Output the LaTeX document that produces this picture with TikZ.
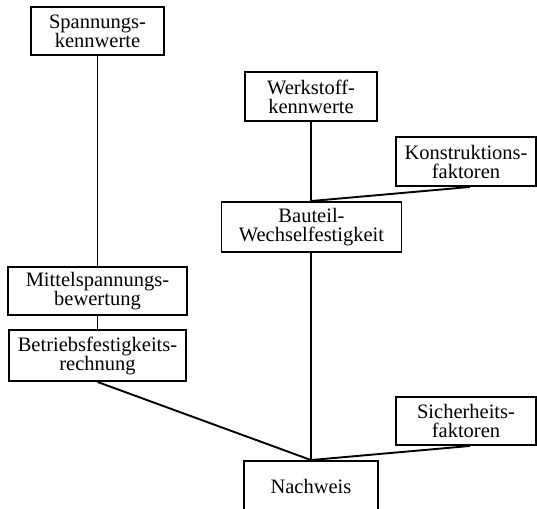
\documentclass[tikz,border=0pt]{standalone}
\usepackage{fontspec}
\setmainfont{Liberation Serif}
\begin{document}
\begin{tikzpicture}[x=1pt,y=-1pt,
  box/.style={draw,line width=1.9pt,rectangle,inner sep=0pt,align=center,
    font=\fontsize{20.5}{19}\selectfont},
  conn/.style={line width=1.9pt}]
\useasboundingbox (0,0) rectangle (537,508);
\begin{scope}
\clip (0,0) rectangle (537,508);
\node[box,minimum width=133pt,minimum height=48pt] (spann) at (97.5,31) {Spannungs-\\kennwerte};
\node[box,minimum width=132pt,minimum height=49pt] (werk) at (311,96.5) {Werkstoff-\\kennwerte};
\node[box,minimum width=140pt,minimum height=49pt] (konst) at (466,161.5) {Konstruktions-\\faktoren};
\node[box,minimum width=180pt,minimum height=50pt] (bauteil) at (311.5,227) {Bauteil-\\Wechselfestigkeit};
\node[box,minimum width=179pt,minimum height=48pt] (mittel) at (97.5,291) {Mittelspannungs-\\bewertung};
\node[box,minimum width=177pt,minimum height=51pt] (betrieb) at (97.5,355.5) {Betriebsfestigkeits-\\rechnung};
\node[box,minimum width=140pt,minimum height=48pt] (sicher) at (466,421) {Sicherheits-\\faktoren};
\node[box,minimum width=134pt,minimum height=50pt] (nach) at (311,486) {Nachweis};
\draw[conn] (spann.south) -- (mittel.north);
\draw[conn] (mittel.south) -- (betrieb.north);
\draw[conn] (werk.south) -- (werk.south |- bauteil.north);
\draw[conn] ([xshift=4pt]konst.south) -- (werk.south |- bauteil.north);
\draw[conn] (werk.south |- bauteil.south) -- (nach.north);
\draw[conn] (betrieb.south) -- (nach.north);
\draw[conn] ([xshift=4pt]sicher.south) -- (nach.north);
\end{scope}
\end{tikzpicture}
\end{document}
